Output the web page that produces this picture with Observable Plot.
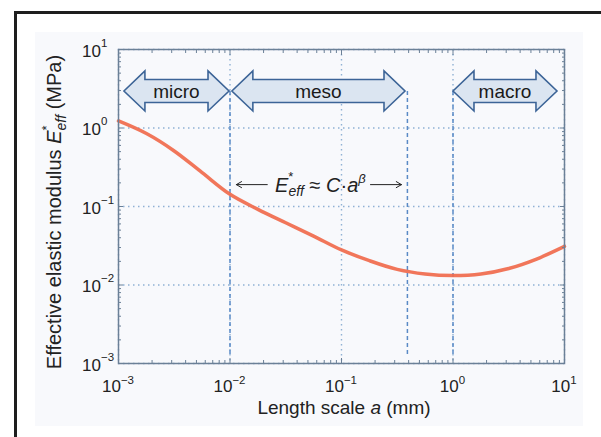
<!DOCTYPE html>
<html><head><meta charset="utf-8">
<script src="https://cdn.jsdelivr.net/npm/d3@7"></script>
<script src="https://cdn.jsdelivr.net/npm/@observablehq/plot@0.6"></script>
<style>
html,body{margin:0;padding:0;background:#fff;}
#wrap{position:relative;width:601px;height:437px;overflow:hidden;font-family:"Liberation Sans",Arial,sans-serif;}
#tint{position:absolute;left:35px;top:32px;width:548px;height:394px;background:#f8f9fc;}
#frame{position:absolute;left:14px;top:11px;width:600px;height:440px;border-left:3px solid #1e1e1e;border-top:3px solid #1e1e1e;}
#chart{position:absolute;left:0;top:0;}
</style></head><body>
<div id="wrap"><div id="tint"></div><div id="frame"></div><div id="chart"></div></div>
<script>
// Curve: effective modulus vs length scale
const lengthScale = [0.001, 0.00178, 0.00316, 0.00562, 0.01, 0.0178, 0.0316, 0.0562, 0.1, 0.178, 0.316, 0.562, 1, 1.78, 3.16, 5.62, 10];
const modulus     = [1.23, 0.85, 0.51, 0.27, 0.143, 0.092, 0.062, 0.042, 0.028, 0.0204, 0.0158, 0.0138, 0.0132, 0.0138, 0.0162, 0.0214, 0.031];

// Axis ticks
const decades = [0.001, 0.01, 0.1, 1, 10];
const expLabels = ["\u22123", "\u22122", "\u22121", "0", "1"];

// Regions (block arrows)
const regions = ["micro", "meso", "macro"];
const regionFrom = [0.00113, 0.0105, 1.01];
const regionTo = [0.0099, 0.375, 8.65];
const regionLevel = 2.92;

// Boundaries (dashed lines)
const boundaries = [0.01, 0.39, 1];
const boundaryTop = 2.92;
const boundaryBottom = 0.0012;

// Power-law annotation
const annotLevel = 0.19;
const annotTail = [0.0216, 0.182];
const annotHead = [0.0114, 0.345];
const annotTextAt = 0.0256;

const minor = decades.slice(0, 4).flatMap(d => [2,3,4,5,6,7,8,9].map(k => k * d));
const curveData = lengthScale.map((a, i) => ({a, E: modulus[i]}));
const arrowData = annotTail.map((t, i) => ({x1: t, x2: annotHead[i], y: annotLevel}));

const FONT = '"Liberation Sans", Arial, sans-serif';
const axisColor = "#6b8097";

function blockArrows(index, scales) {
  const g = d3.create("svg:g");
  const cy = scales.y(regionLevel);
  const h = 21, H = 20, s = 11.5;
  regions.forEach((name, i) => {
    const x0 = scales.x(regionFrom[i]), x1 = scales.x(regionTo[i]);
    const d = `M${x0},${cy}L${x0+h},${cy-H}L${x0+h},${cy-s}L${x1-h},${cy-s}L${x1-h},${cy-H}L${x1},${cy}L${x1-h},${cy+H}L${x1-h},${cy+s}L${x0+h},${cy+s}L${x0+h},${cy+H}Z`;
    g.append("path").attr("d", d).attr("fill", "#dbe5f1").attr("stroke", "#3c6497").attr("stroke-width", 1.6);
    g.append("text").attr("x", (x0 + x1) / 2).attr("y", cy + 7).attr("text-anchor", "middle")
      .attr("font-size", 19).attr("fill", "#1a1a1a").attr("font-family", FONT).text(name);
  });
  return g.node();
}

function tickLabels(index, scales) {
  const g = d3.create("svg:g").attr("font-family", FONT).attr("fill", "#222");
  decades.forEach((d, i) => {
    const tx = g.append("text").attr("x", scales.x(d)).attr("y", 392).attr("text-anchor", "middle").attr("font-size", 17);
    tx.append("tspan").text("10");
    tx.append("tspan").attr("font-size", 11.5).attr("dy", -8).text(expLabels[i]);
    const ty = g.append("text").attr("x", 82).attr("y", scales.y(d) + 7.5).attr("text-anchor", "start").attr("font-size", 17);
    ty.append("tspan").text("10");
    ty.append("tspan").attr("font-size", 11.5).attr("dy", -10).text(expLabels[i]);
  });
  return g.node();
}

function titles(index, scales) {
  const g = d3.create("svg:g").attr("font-family", FONT).attr("fill", "#222");
  const xt = g.append("text").attr("x", 344).attr("y", 414).attr("text-anchor", "middle").attr("font-size", 19);
  xt.append("tspan").text("Length scale ");
  xt.append("tspan").attr("font-style", "italic").text("a");
  xt.append("tspan").text(" (mm)");
  const yt = g.append("text").attr("transform", "translate(61,212) rotate(-90)").attr("text-anchor", "middle").attr("font-size", 20);
  yt.append("tspan").text("Effective elastic modulus ");
  yt.append("tspan").attr("font-style", "italic").text("E");
  yt.append("tspan").attr("font-size", 13).attr("dy", -10).text("*");
  yt.append("tspan").attr("font-size", 14).attr("font-style", "italic").attr("dx", -5).attr("dy", 15).text("eff");
  yt.append("tspan").attr("dy", -5).text(" (MPa)");
  // power-law annotation
  const at = g.append("text").attr("x", scales.x(annotTextAt)).attr("y", scales.y(annotLevel) + 7.5)
    .attr("text-anchor", "start").attr("font-size", 20);
  at.append("tspan").attr("font-style", "italic").text("E");
  at.append("tspan").attr("font-size", 13).attr("dy", -11).text("*");
  at.append("tspan").attr("font-size", 14).attr("font-style", "italic").attr("dx", -5).attr("dy", 15).text("eff");
  at.append("tspan").attr("dy", -4).text(" \u2248 ");
  at.append("tspan").attr("font-style", "italic").text("C");
  at.append("tspan").text("\u00b7");
  at.append("tspan").attr("font-style", "italic").text("a");
  at.append("tspan").attr("font-size", 13).attr("font-style", "italic").attr("dy", -9).text("\u03b2");
  return g.node();
}

const chart = Plot.plot({
  width: 601,
  height: 437,
  marginLeft: 118,
  marginRight: 37,
  marginTop: 49,
  marginBottom: 74,
  style: {background: "transparent", fontFamily: FONT, overflow: "visible"},
  x: {type: "log", domain: [0.001, 10]},
  y: {type: "log", domain: [0.001, 10]},
  marks: [
    Plot.gridX(decades, {stroke: "#8fb1d4", strokeOpacity: 1, strokeWidth: 1.4, strokeDasharray: "1.5,3.5"}),
    Plot.gridY(decades, {stroke: "#8fb1d4", strokeOpacity: 1, strokeWidth: 1.4, strokeDasharray: "1.5,3.5"}),
    Plot.ruleX(boundaries, {x: d => d, y1: boundaryTop, y2: boundaryBottom, stroke: "#5a8ac6", strokeWidth: 1.5, strokeDasharray: "4,3"}),
    Plot.line(curveData, {x: "a", y: "E", stroke: "#f06a4c", strokeWidth: 3.5, strokeOpacity: 0.92, curve: "catmull-rom"}),
    Plot.frame({stroke: axisColor, strokeWidth: 1.5}),
    Plot.axisX({anchor: "bottom", ticks: minor, tickSize: -3, stroke: axisColor, fill: "none", label: null}),
    Plot.axisX({anchor: "top", ticks: minor, tickSize: -3, stroke: axisColor, fill: "none", label: null}),
    Plot.axisY({anchor: "left", ticks: minor, tickSize: -3, stroke: axisColor, fill: "none", label: null}),
    Plot.axisY({anchor: "right", ticks: minor, tickSize: -3, stroke: axisColor, fill: "none", label: null}),
    Plot.axisX({anchor: "bottom", ticks: decades, tickSize: -5, stroke: axisColor, fill: "none", label: null}),
    Plot.axisX({anchor: "top", ticks: decades, tickSize: -5, stroke: axisColor, fill: "none", label: null}),
    Plot.axisY({anchor: "left", ticks: decades, tickSize: -5, stroke: axisColor, fill: "none", label: null}),
    Plot.axisY({anchor: "right", ticks: decades, tickSize: -5, stroke: axisColor, fill: "none", label: null}),
    blockArrows,
    Plot.arrow(arrowData, {x1: "x1", y1: "y", x2: "x2", y2: "y", stroke: "#222", strokeWidth: 1, headLength: 9, headAngle: 60}),
    tickLabels,
    titles
  ]
});
document.getElementById("chart").appendChild(chart);
</script>
</body></html>
